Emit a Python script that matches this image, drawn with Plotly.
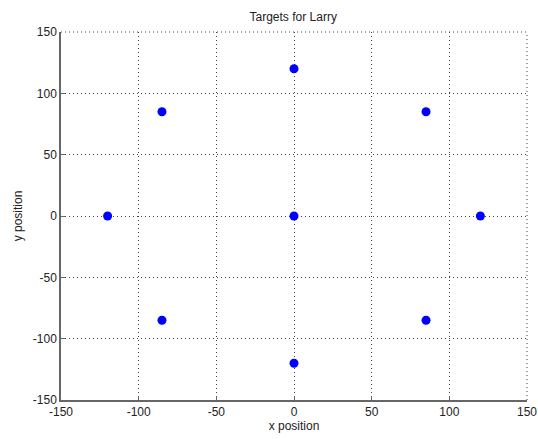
import plotly.graph_objects as go

x_vals = [0, 85, 120, 85, 0, -85, -120, -85, 0]
y_vals = [120, 85, 0, -85, -120, -85, 0, 85, 0]
tick_vals = [-150, -100, -50, 0, 50, 100, 150]

FONT = dict(family="Liberation Sans, Arial", size=12, color="#222222")

fig = go.Figure()
fig.add_trace(go.Scatter(x=x_vals, y=y_vals, mode="markers",
                         marker=dict(color="#0000FF", size=9, line=dict(width=0)),
                         showlegend=False, cliponaxis=False))

axis_common = dict(
    range=[-150, 150], tickvals=tick_vals, ticktext=[str(v) for v in tick_vals],
    showgrid=True, gridcolor="#444444", griddash="1px,3px", gridwidth=1,
    zeroline=False, showline=True, linecolor="#666666", linewidth=1.5,
    ticks="inside", ticklen=4, tickcolor="#666666",
    tickfont=FONT, automargin=False,
)

fig.update_xaxes(**axis_common, ticklabelstandoff=0,
                 title=dict(text="x position", standoff=2, font=FONT))
fig.update_yaxes(**axis_common,
                 title=dict(text="y position", standoff=8, font=FONT))

# dotted border lines at the top and right edges (grid lines at 150)
for s in [dict(x0=0, x1=1, y0=1, y1=1), dict(x0=1, x1=1, y0=0, y1=1)]:
    fig.add_shape(type="line", xref="x domain", yref="y domain", **s,
                  line=dict(color="#444444", width=1, dash="1px,3px"))

fig.update_layout(
    width=538, height=439,
    margin=dict(l=61, r=11, t=32, b=39),
    plot_bgcolor="white", paper_bgcolor="white",
    title=dict(text="Targets for Larry", x=0.545, xanchor="center", y=1 - 17/439, yanchor="middle",
               font=FONT),
)

fig.write_html("out.html", config={"displayModeBar": False},
               post_script="document.body.style.margin='0';document.body.style.padding='0';")
